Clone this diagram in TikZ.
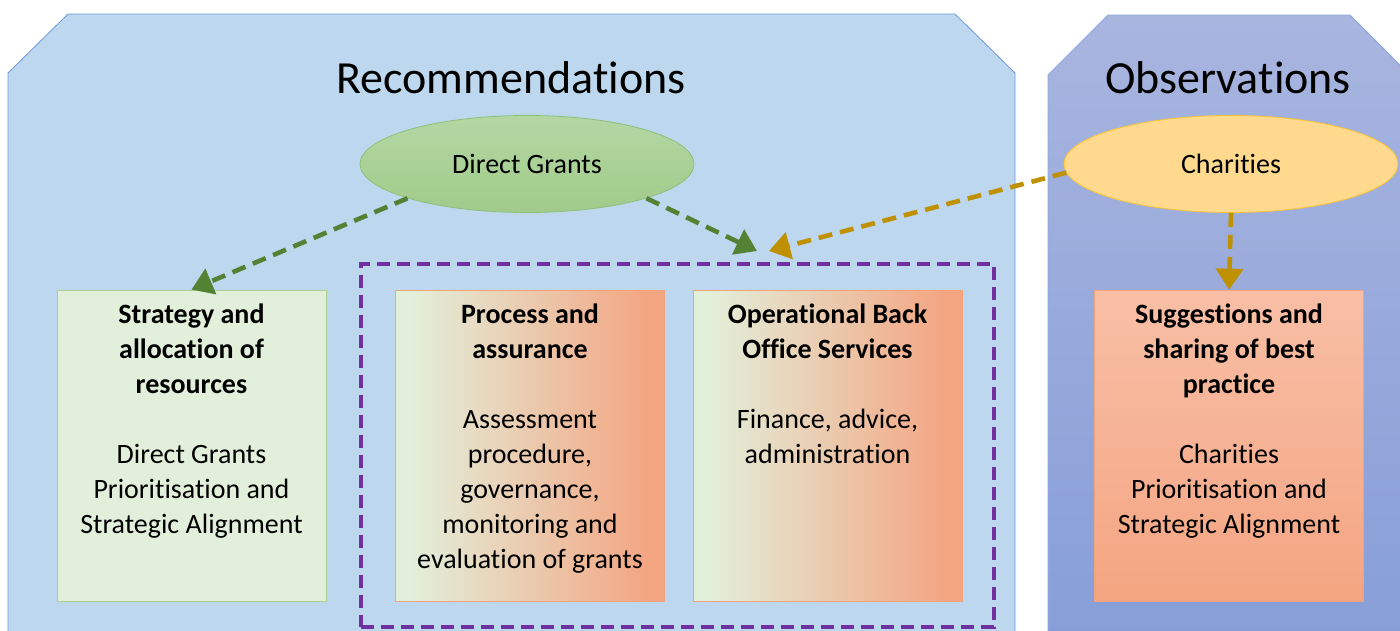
\documentclass[tikz,border=0pt]{standalone}
\usepackage{fontspec}
\setmainfont{Carlito}[Ligatures=NoCommon,Contextuals=NoAlternate]
\usetikzlibrary{positioning,arrows.meta,shapes.geometric}
\definecolor{RecFill}{HTML}{BDD7EE}
\definecolor{RecLine}{HTML}{6A9BDB}
\definecolor{ObsTop}{HTML}{A8B5DF}
\definecolor{ObsBottom}{HTML}{879ED8}
\definecolor{ObsLine}{HTML}{8FAADC}
\definecolor{GrantTop}{HTML}{B4D7A4}
\definecolor{GrantBottom}{HTML}{A0CB8A}
\definecolor{GrantLine}{HTML}{8CC07A}
\definecolor{CharFill}{HTML}{FFD98E}
\definecolor{CharLine}{HTML}{FFC52E}
\definecolor{BoxGreen}{HTML}{E2EFDA}
\definecolor{BoxGreenLine}{HTML}{A9D18E}
\definecolor{BoxOrange}{HTML}{F4A582}
\definecolor{BoxOrangeTop}{HTML}{F8BFA6}
\definecolor{BoxOrangeLine}{HTML}{F1A37F}
\definecolor{GroupPurple}{HTML}{7030A0}
\definecolor{ArrowGreen}{HTML}{548235}
\definecolor{ArrowGold}{HTML}{BF9000}
\pgfdeclarehorizontalshading{greentoorange}{100bp}{color(0bp)=(BoxGreen); color(28bp)=(BoxGreen); color(72bp)=(BoxOrange); color(100bp)=(BoxOrange)}

\begin{document}
\begin{tikzpicture}[x=1pt,y=-1pt,
      panel/.style={line width=0.8pt},
      ttl/.style={font=\fontsize{46}{55}\selectfont,anchor=base},
      oval/.style={ellipse,minimum width=334pt,minimum height=97pt,inner sep=0pt,
                   font=\fontsize{28}{35}\selectfont,line width=0.8pt},
      card/.style={minimum width=269pt,minimum height=311pt,inner sep=0pt,line width=0.8pt},
      cardtxt/.style={anchor=north,align=center,inner sep=0pt,font=\fontsize{28}{35}\selectfont},
      group/.style={draw=GroupPurple,line width=4pt,dash pattern=on 13pt off 7pt,
                    minimum width=633pt,minimum height=363pt,inner sep=0pt},
      dep/.style={-{Triangle[length=21pt,width=27pt]},line width=4.6pt,dash pattern=on 14pt off 8pt}]
    \clip (0,0) rectangle (1400,630);
    \draw[panel,fill=RecFill,draw=RecLine]
      (8,640) -- (8,73) -- (68,14) -- (955,14) -- (1015,73) -- (1015,640) -- cycle;
    \draw[panel,top color=ObsTop,bottom color=ObsBottom,draw=ObsLine]
      (1048,640) -- (1048,75) -- (1108,15) -- (1350,15) -- (1410,75) -- (1410,640) -- cycle;
    \node[ttl] (recTitle) at (511,93) {Recommendations};
    \node[ttl] (obsTitle) at (1228,93) {Observations};

    \node[oval,top color=GrantTop,bottom color=GrantBottom,draw=GrantLine] (grants) at (527,164) {Direct Grants};
    \node[oval,fill=CharFill,draw=CharLine] (charities) at (1231,164) {Charities};

    \node[card,fill=BoxGreen,draw=BoxGreenLine] (strategy) at (191.5,445.5) {};
    \node[card,shading=greentoorange,draw=BoxOrangeLine] (process) at (530,445.5) {};
    \node[card,shading=greentoorange,draw=BoxOrangeLine] (backoffice) at (827.5,445.5) {};
    \node[card,top color=BoxOrangeTop,bottom color=BoxOrange,draw=BoxOrangeLine] (practice) at (1229,445.5) {};
    \node[group] (services) at (677.5,445.5) {};

    \node[cardtxt] (strategyTxt) at ([yshift=-14pt]strategy.north)
      {\textbf{Strategy and}\\\textbf{allocation of}\\\textbf{resources}\\[35pt]Direct Grants\\Prioritisation and\\Strategic Alignment};
    \node[cardtxt] (processTxt) at ([yshift=-14pt]process.north)
      {\textbf{Process and}\\\textbf{assurance}\\[35pt]Assessment\\procedure,\\governance,\\monitoring and\\evaluation of grants};
    \node[cardtxt] (backofficeTxt) at ([yshift=-14pt]backoffice.north)
      {\textbf{Operational Back}\\\textbf{Office Services}\\[35pt]Finance, advice,\\administration};
    \node[cardtxt] (practiceTxt) at ([yshift=-14pt]practice.north)
      {\textbf{Suggestions and}\\\textbf{sharing of best}\\\textbf{practice}\\[35pt]Charities\\Prioritisation and\\Strategic Alignment};

    \coordinate (grantsEnd) at (757,251);
    \coordinate (charitiesEnd) at (769,251);
    \draw[dep,ArrowGreen] (grants.196) -- (strategy.north);
    \draw[dep,ArrowGreen] (grants.344) -- (grantsEnd);
    \draw[dep,ArrowGold] (charities.183) -- (charitiesEnd);
    \draw[dep,ArrowGold] (charities.south) -- (practice.north);
  \end{tikzpicture}
\end{document}
